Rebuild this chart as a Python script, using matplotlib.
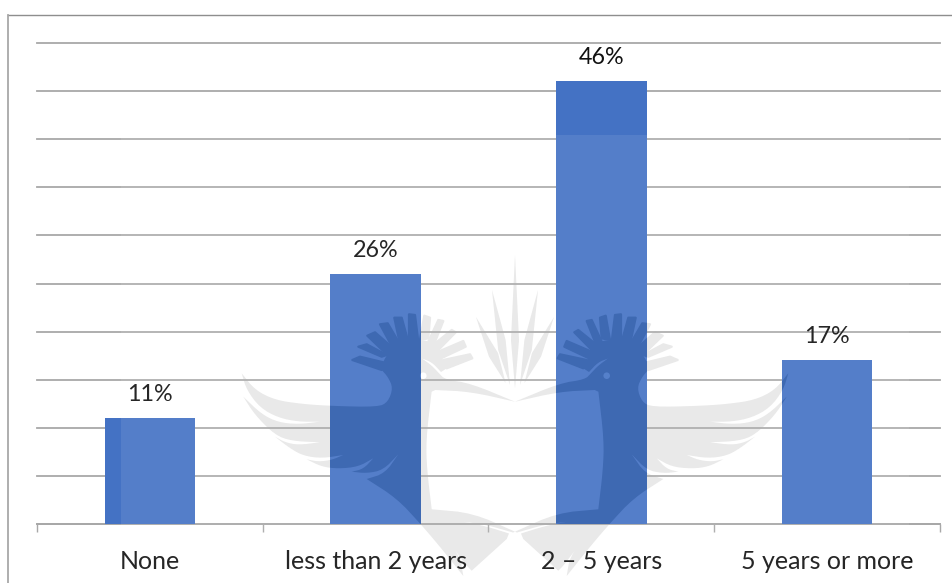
# -*- coding: utf-8 -*-
"""
Years of experience, column chart with the faint logo behind and over the bars
"""
import matplotlib
matplotlib.use('Agg')
import matplotlib.pyplot as plt
from matplotlib.patches import Circle, Polygon, Rectangle

plt.rcParams['font.family'] = ['Lato', 'DejaVu Sans']

# %% Data
categories = ['None', 'less than 2 years', '2 – 5 years', '5 years or more']
shares = [11, 26, 46, 17]
grid_values = list(range(0, 55, 5))

# %% Colours
bar_blue = '#4472C4'
grid_gray = '#A8A8A8'
logo_gray = '#E7E7E7'
logo_on_bar = '#3E69B2'
bar_washed = '#5580CA'
text_color = '#111111'

W, H = 953, 583
MIRROR = 1030   # the logo is symmetric about x = 515 px

# %% Logo outlines, left half, in pixels from the top left corner
# the body is a chain of curved runs that meet at sharp corners
body_runs = [
    [(241.7, 373.3), (246.7, 390), (260, 407.7), (278.3, 417.7), (298.3, 421.7), (320, 421.7)],
    [(320, 421.7), (298.3, 424.3), (278.3, 422.3), (261.7, 414.3), (243.3, 396.7)],
    [(243.3, 396.7), (255, 415), (275, 435), (291.7, 441), (320, 442.3)],
    [(320, 442.3), (298.3, 445), (285, 442.3), (275, 436.7)],
    [(275, 436.7), (290, 448.3), (303.3, 455.7), (321.7, 458.3), (343.3, 455)],
    [(343.3, 455), (331.7, 460), (318.3, 461.7), (306.7, 459.3)],
    [(306.7, 459.3), (321.7, 466.7), (338.3, 468.7), (358.3, 466.7), (373.3, 458.3)],
    [(373.3, 458.3), (363.3, 469), (351.7, 471.7)],
    [(351.7, 471.7), (366.7, 473.3), (383.3, 470), (398.3, 454.3)],
    [(398.3, 454.3), (385, 473.3), (366.7, 479)],
    [(366.7, 479), (396.7, 498.3), (420, 523.3), (440, 546.7), (463.3, 576)],
    [(463.3, 576), (460, 556.7), (446, 538.3)],
    [(446, 538.3), (466, 565), (471.7, 570.7)],
    [(471.7, 570.7), (506.7, 539)],
    [(506.7, 539), (509, 533.5)],
    [(509, 533.5), (485, 526), (463, 521.7)],
    [(463, 521.7), (485, 524.5), (513, 532.5)],
    [(513, 532.5), (515, 531.7)],
    [(515, 531.7), (473, 513), (431.7, 509.3)],
    [(431.7, 509.3), (427, 470), (426, 440), (431.6, 391.7)],
    [(431.6, 391.7), (435.3, 390)],
    [(435.3, 390), (470.5, 391.7), (515, 401.7)],
    [(515, 401.7), (470.5, 383.3), (445, 379.5), (439, 373.3), (431.7, 365.5), (422, 358.5)],
    [(422, 358.5), (432, 362.3), (441, 372)],
    [(441, 372), (446.7, 368.3)],
    [(446.7, 368.3), (443, 360), (438, 350), (434, 344), (428, 341), (420, 340), (409, 342),
     (400, 344), (393, 349), (387, 355), (383, 362), (381.7, 370)],
    [(381.7, 370), (388, 377), (393, 388), (388, 402), (378, 407), (332, 406), (302, 404),
     (275, 400), (255, 390), (241.7, 373.3)],
]

crest = [
    [(381.7, 370), (352.3, 360), (360, 356.7), (383.3, 362.3)],
    [(381.7, 356.7), (358.3, 346.7), (366.7, 344.3), (386.7, 355)],
    [(386.7, 354.3), (367.3, 335.7), (375, 332.3), (393.3, 348.3)],
    [(393.3, 349), (380, 324.3), (387.7, 323.3), (400, 344.3)],
    [(400, 344.3), (394.3, 317.7), (401.7, 317.7), (408.3, 341.7)],
    [(409, 342.3), (409, 314.3), (415, 315), (418.3, 341.7)],
    [(420, 340), (424.3, 315.7), (430, 317.7), (428.3, 338.3)],
    [(428.3, 341.7), (438.3, 320), (443.3, 321), (434, 344.3)],
    [(434, 344.3), (451.7, 330), (455.7, 332.3), (438.3, 350)],
    [(438.3, 351.7), (463.3, 341), (465.7, 346.7), (442.3, 357.7)],
    [(443.3, 360), (470, 354.3), (472.3, 358.3), (446.7, 368.3)],
]

plumes = [
    [(492, 290), (505.6, 340), (510, 385), (498.2, 350)],
    [(476, 317), (498, 353), (505.6, 383), (489, 356.7)],
]
center_plume = [(515, 255), (519, 340), (515, 388), (511, 340)]
eye = (423.3, 375.7)


def mirrored(points):
    return [(MIRROR - x, y) for x, y in points]


def rounded(run, passes=2):
    """Corner cutting on one run, its two end points stay where they are"""
    for _ in range(passes):
        new = [run[0]]
        for (x0, y0), (x1, y1) in zip(run[:-1], run[1:]):
            new.append((0.75 * x0 + 0.25 * x1, 0.75 * y0 + 0.25 * y1))
            new.append((0.25 * x0 + 0.75 * x1, 0.25 * y0 + 0.75 * y1))
        new.append(run[-1])
        run = new
    return run


body = []
for run in body_runs:
    body.extend(rounded(run))

# (outline, stroke width): the stroke fattens and rounds the small feathers
logo_shapes = [(center_plume, 0), (body, 0), (mirrored(body), 0)]
for shape in crest:
    logo_shapes.append((shape, 1.6))
    logo_shapes.append((mirrored(shape), 1.6))
for shape in plumes:
    logo_shapes.append((shape, 0))
    logo_shapes.append((mirrored(shape), 0))
eyes = [eye, (MIRROR - eye[0], eye[1])]

# %% Figure and layers
fig = plt.figure(figsize=(W / 100, H / 100), dpi=100, facecolor='white')


def pixel_axes(zorder):
    a = fig.add_axes([0, 0, 1, 1], zorder=zorder)
    a.set_xlim(0, W)
    a.set_ylim(H, 0)
    a.axis('off')
    a.patch.set_alpha(0)
    return a


def logo_patch(shape, stroke, color):
    return Polygon(shape, closed=True, fc=color, ec=color if stroke else 'none',
                   lw=stroke, joinstyle='round')


under = pixel_axes(0)
over = pixel_axes(2)

# chart frame, only the top and left edges fall inside the image
under.plot([8, W], [14.5, 14.5], color='#8E8E8E', lw=1.0)
under.plot([8, 8], [14.5, H], color='#A8A8A8', lw=1.3)

for shape, stroke in logo_shapes:
    under.add_patch(logo_patch(shape, stroke, logo_gray))
for centre in eyes:
    under.add_patch(Circle(centre, 3.3, fc='white', ec='none'))

# %% Column chart
ax = fig.add_axes([37 / W, (H - 524) / H, 903 / W, 481 / H], zorder=1)
ax.patch.set_alpha(0)

positions = list(range(len(categories)))
bars = ax.bar(positions, shares, width=0.4, color=bar_blue, zorder=3)

ax.set_xlim(-0.5, len(categories) - 0.5)
ax.set_ylim(0, 50)
ax.set_yticks(grid_values)
ax.set_yticklabels([])
ax.tick_params(axis='y', length=0)
ax.grid(axis='y', color=grid_gray, lw=1.3, zorder=1, clip_on=False)
ax.set_axisbelow(True)

ax.set_xticks(positions)
ax.set_xticklabels(categories, fontsize=18, color=text_color)
ax.tick_params(axis='x', which='major', length=0, pad=18.5)
ax.set_xticks([p - 0.5 for p in positions] + [positions[-1] + 0.5], minor=True)
ax.tick_params(axis='x', which='minor', length=5.8, width=1.0, color=grid_gray)

for side in ['top', 'left', 'right']:
    ax.spines[side].set_visible(False)
ax.spines['bottom'].set_color(grid_gray)
ax.spines['bottom'].set_linewidth(1.3)

for p, v in zip(positions, shares):
    ax.annotate(f'{v}%', xy=(p, v), xytext=(0, 9.5), textcoords='offset points',
                ha='center', va='bottom', fontsize=16.8, color=text_color)

# %% Pale wash of the logo sheet, then the logo darkening the bars
over.add_patch(Rectangle((121, 135), 788, H - 135, fc='white', ec='none', alpha=0.09))

for bar in bars:
    clip = Rectangle(bar.get_xy(), bar.get_width(), bar.get_height(),
                     transform=ax.transData)
    for shape, stroke in logo_shapes:
        p = logo_patch(shape, stroke, logo_on_bar)
        over.add_patch(p)
        p.set_clip_path(clip)
    for centre in eyes:
        c = Circle(centre, 3.3, fc=bar_washed, ec='none')
        over.add_patch(c)
        c.set_clip_path(clip)

fig.savefig('out.png', dpi=100)
plt.close(fig)
